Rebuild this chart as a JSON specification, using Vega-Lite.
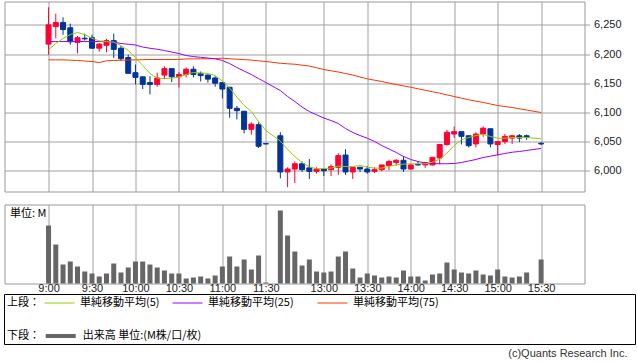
{
  "$schema": "https://vega.github.io/schema/vega-lite/v6.json",
  "padding": {"left": 3.5, "top": 0.5, "right": 0, "bottom": 0},
  "background": "white",
  "spacing": 11,
  "title": {"text": "(c)Quants Research Inc.", "orient": "bottom", "anchor": "end", "font": "Liberation Sans", "fontSize": 11, "fontWeight": "normal", "color": "#333333", "offset": 3, "dx": -8},
  "config": {
    "view": {"stroke": "#999999", "strokeWidth": 1},
    "axis": {"gridColor": "#a0a0a0", "gridWidth": 1, "gridOpacity": 1, "labelColor": "#222222", "labelFont": "Liberation Sans", "labelFontSize": 11, "tickColor": "#a0a0a0"},
    "axisY": {"values": [6000, 6050, 6100, 6150, 6200, 6250]}
  },
  "datasets": {
    "bars": [
      {"n": 0, "t": "9:00", "o": 6217, "h": 6280, "l": 6199, "c": 6250, "v": 0.58, "ma5": 6207.2, "ma25": 6221.4, "ma75": 6190.1},
      {"n": 1, "t": "9:05", "o": 6247, "h": 6269, "l": 6227, "c": 6254, "v": 0.39, "ma5": 6218, "ma25": 6221.4, "ma75": 6190},
      {"n": 2, "t": "9:10", "o": 6254, "h": 6263, "l": 6233, "c": 6242, "v": 0.19, "ma5": 6226.5, "ma25": 6221.4, "ma75": 6190},
      {"n": 3, "t": "9:15", "o": 6245, "h": 6252, "l": 6216, "c": 6221, "v": 0.22, "ma5": 6233.4, "ma25": 6221.4, "ma75": 6189.5},
      {"n": 4, "t": "9:20", "o": 6220, "h": 6231, "l": 6201, "c": 6228, "v": 0.17, "ma5": 6236.8, "ma25": 6221.4, "ma75": 6188.9},
      {"n": 5, "t": "9:25", "o": 6227, "h": 6235, "l": 6223, "c": 6226, "v": 0.12, "ma5": 6233.4, "ma25": 6221.4, "ma75": 6188},
      {"n": 6, "t": "9:30", "o": 6228, "h": 6233, "l": 6209, "c": 6210, "v": 0.10, "ma5": 6227, "ma25": 6221.4, "ma75": 6187.2},
      {"n": 7, "t": "9:35", "o": 6210, "h": 6219, "l": 6204, "c": 6217, "v": 0.07, "ma5": 6222.6, "ma25": 6221.4, "ma75": 6185.4},
      {"n": 8, "t": "9:40", "o": 6215, "h": 6226, "l": 6203, "c": 6223, "v": 0.10, "ma5": 6221.4, "ma25": 6221.4, "ma75": 6188.4},
      {"n": 9, "t": "9:45", "o": 6223, "h": 6235, "l": 6193, "c": 6208, "v": 0.20, "ma5": 6220.5, "ma25": 6220.5, "ma75": 6189},
      {"n": 10, "t": "9:50", "o": 6210, "h": 6214, "l": 6188, "c": 6192, "v": 0.11, "ma5": 6214.5, "ma25": 6218, "ma75": 6189.4},
      {"n": 11, "t": "9:55", "o": 6194, "h": 6199, "l": 6167, "c": 6167, "v": 0.16, "ma5": 6206, "ma25": 6216.8, "ma75": 6189.7},
      {"n": 12, "t": "10:00", "o": 6168, "h": 6182, "l": 6148, "c": 6160, "v": 0.22, "ma5": 6194, "ma25": 6215.4, "ma75": 6190},
      {"n": 13, "t": "10:05", "o": 6161, "h": 6161, "l": 6140, "c": 6148, "v": 0.22, "ma5": 6180.3, "ma25": 6212, "ma75": 6190.3},
      {"n": 14, "t": "10:10", "o": 6151, "h": 6162, "l": 6131, "c": 6148, "v": 0.19, "ma5": 6166.6, "ma25": 6209.9, "ma75": 6190.6},
      {"n": 15, "t": "10:15", "o": 6148, "h": 6168, "l": 6144, "c": 6159, "v": 0.16, "ma5": 6158.6, "ma25": 6208.2, "ma75": 6190.6},
      {"n": 16, "t": "10:20", "o": 6164, "h": 6179, "l": 6157, "c": 6175, "v": 0.13, "ma5": 6158, "ma25": 6206, "ma75": 6190.6},
      {"n": 17, "t": "10:25", "o": 6175, "h": 6175, "l": 6152, "c": 6161, "v": 0.10, "ma5": 6158.6, "ma25": 6203.4, "ma75": 6190.6},
      {"n": 18, "t": "10:30", "o": 6161, "h": 6169, "l": 6143, "c": 6165, "v": 0.10, "ma5": 6160.6, "ma25": 6200.9, "ma75": 6190.8},
      {"n": 19, "t": "10:35", "o": 6165, "h": 6177, "l": 6160, "c": 6174, "v": 0.05, "ma5": 6164.9, "ma25": 6197.4, "ma75": 6191.5},
      {"n": 20, "t": "10:40", "o": 6174, "h": 6179, "l": 6160, "c": 6165, "v": 0.06, "ma5": 6168.3, "ma25": 6195.7, "ma75": 6191.8},
      {"n": 21, "t": "10:45", "o": 6167, "h": 6170, "l": 6153, "c": 6163, "v": 0.07, "ma5": 6167.4, "ma25": 6194.4, "ma75": 6191.8},
      {"n": 22, "t": "10:50", "o": 6164, "h": 6165, "l": 6151, "c": 6157, "v": 0.05, "ma5": 6166.6, "ma25": 6193.1, "ma75": 6191.8},
      {"n": 23, "t": "10:55", "o": 6159, "h": 6162, "l": 6144, "c": 6150, "v": 0.08, "ma5": 6163.2, "ma25": 6191.8, "ma75": 6192.3},
      {"n": 24, "t": "11:00", "o": 6151, "h": 6151, "l": 6124, "c": 6140, "v": 0.17, "ma5": 6153.8, "ma25": 6188.9, "ma75": 6192.8},
      {"n": 25, "t": "11:05", "o": 6143, "h": 6144, "l": 6091, "c": 6107, "v": 0.27, "ma5": 6141.8, "ma25": 6183.7, "ma75": 6192},
      {"n": 26, "t": "11:10", "o": 6107, "h": 6111, "l": 6088, "c": 6103, "v": 0.17, "ma5": 6126.4, "ma25": 6176.9, "ma75": 6191.1},
      {"n": 27, "t": "11:15", "o": 6102, "h": 6102, "l": 6064, "c": 6071, "v": 0.24, "ma5": 6111.8, "ma25": 6170.9, "ma75": 6190.4},
      {"n": 28, "t": "11:20", "o": 6071, "h": 6083, "l": 6062, "c": 6080, "v": 0.14, "ma5": 6101.5, "ma25": 6164.9, "ma75": 6189.7},
      {"n": 29, "t": "11:25", "o": 6079, "h": 6083, "l": 6039, "c": 6042, "v": 0.28, "ma5": 6084.4, "ma25": 6158, "ma75": 6188.4},
      {"n": 30, "t": "11:30", "o": 6046.5, "h": 6046.5, "l": 6046, "c": 6046, "v": 0.01, "ma5": 6069, "ma25": 6151.2, "ma75": 6187.2},
      {"n": 32, "t": "12:30", "o": 6060, "h": 6066, "l": 5987, "c": 5998, "v": 0.73, "ma5": 6051, "ma25": 6137.5, "ma75": 6184.2},
      {"n": 33, "t": "12:35", "o": 5998, "h": 6006, "l": 5972, "c": 6003, "v": 0.48, "ma5": 6036.5, "ma25": 6127.2, "ma75": 6183.3},
      {"n": 34, "t": "12:40", "o": 6003, "h": 6016, "l": 5979, "c": 6012, "v": 0.32, "ma5": 6024.5, "ma25": 6118.7, "ma75": 6182.5},
      {"n": 35, "t": "12:45", "o": 6012, "h": 6016, "l": 5998, "c": 6002, "v": 0.18, "ma5": 6014.2, "ma25": 6109.2, "ma75": 6181},
      {"n": 36, "t": "12:50", "o": 6005, "h": 6020, "l": 5986, "c": 5999, "v": 0.24, "ma5": 6006.8, "ma25": 6101.5, "ma75": 6179.4},
      {"n": 37, "t": "12:55", "o": 5999, "h": 6006, "l": 5995, "c": 6003, "v": 0.12, "ma5": 6003.4, "ma25": 6095.9, "ma75": 6176.5},
      {"n": 38, "t": "13:00", "o": 6003, "h": 6003, "l": 5991, "c": 6000, "v": 0.11, "ma5": 6003.9, "ma25": 6090.4, "ma75": 6173.5},
      {"n": 39, "t": "13:05", "o": 6002, "h": 6011, "l": 5991, "c": 6007, "v": 0.12, "ma5": 6004.5, "ma25": 6086.1, "ma75": 6171.3},
      {"n": 40, "t": "13:10", "o": 6006, "h": 6030, "l": 5993, "c": 6026, "v": 0.27, "ma5": 6007.9, "ma25": 6081, "ma75": 6169.2},
      {"n": 41, "t": "13:15", "o": 6027, "h": 6037, "l": 5993, "c": 5998, "v": 0.32, "ma5": 6007.4, "ma25": 6072.4, "ma75": 6166.6},
      {"n": 42, "t": "13:20", "o": 5998, "h": 6006, "l": 5986, "c": 6006, "v": 0.15, "ma5": 6007.4, "ma25": 6065.6, "ma75": 6164},
      {"n": 43, "t": "13:25", "o": 6006, "h": 6006, "l": 5998, "c": 6003, "v": 0.06, "ma5": 6009.1, "ma25": 6060.4, "ma75": 6160.7},
      {"n": 44, "t": "13:30", "o": 6003, "h": 6008, "l": 5995, "c": 5998, "v": 0.10, "ma5": 6006.2, "ma25": 6055.8, "ma75": 6157.5},
      {"n": 45, "t": "13:35", "o": 5999, "h": 6006, "l": 5996, "c": 6002, "v": 0.08, "ma5": 6004.5, "ma25": 6050.2, "ma75": 6155.2},
      {"n": 46, "t": "13:40", "o": 6002, "h": 6010, "l": 5999, "c": 6010, "v": 0.06, "ma5": 6004.5, "ma25": 6043.3, "ma75": 6152.9},
      {"n": 47, "t": "13:45", "o": 6009, "h": 6019, "l": 6001, "c": 6016, "v": 0.07, "ma5": 6007.4, "ma25": 6037.3, "ma75": 6150.3},
      {"n": 48, "t": "13:50", "o": 6014, "h": 6020, "l": 6009, "c": 6018, "v": 0.06, "ma5": 6010.3, "ma25": 6031.3, "ma75": 6147.8},
      {"n": 49, "t": "13:55", "o": 6018, "h": 6025, "l": 5998, "c": 6003, "v": 0.13, "ma5": 6011.3, "ma25": 6024.5, "ma75": 6145.4},
      {"n": 50, "t": "14:00", "o": 6003, "h": 6011, "l": 6002, "c": 6010, "v": 0.07, "ma5": 6012, "ma25": 6019.3, "ma75": 6143.1},
      {"n": 51, "t": "14:05", "o": 6011, "h": 6016, "l": 6009, "c": 6010, "v": 0.07, "ma5": 6012, "ma25": 6015.9, "ma75": 6140.5},
      {"n": 52, "t": "14:10", "o": 6010, "h": 6014, "l": 6005, "c": 6014, "v": 0.03, "ma5": 6012, "ma25": 6013.4, "ma75": 6138},
      {"n": 53, "t": "14:15", "o": 6010, "h": 6023, "l": 6009, "c": 6023, "v": 0.09, "ma5": 6014.7, "ma25": 6012.5, "ma75": 6135.4},
      {"n": 54, "t": "14:20", "o": 6022, "h": 6046, "l": 6011, "c": 6045, "v": 0.10, "ma5": 6019.9, "ma25": 6012, "ma75": 6132.9},
      {"n": 55, "t": "14:25", "o": 6045, "h": 6070, "l": 6043, "c": 6066, "v": 0.21, "ma5": 6030.1, "ma25": 6012, "ma75": 6130},
      {"n": 56, "t": "14:30", "o": 6063, "h": 6076, "l": 6056, "c": 6067, "v": 0.14, "ma5": 6043.3, "ma25": 6012.5, "ma75": 6127.2},
      {"n": 57, "t": "14:35", "o": 6067, "h": 6067, "l": 6045, "c": 6059, "v": 0.11, "ma5": 6053.1, "ma25": 6014.2, "ma75": 6124.4},
      {"n": 58, "t": "14:40", "o": 6060, "h": 6060, "l": 6040, "c": 6043, "v": 0.10, "ma5": 6057, "ma25": 6016.8, "ma75": 6121.6},
      {"n": 59, "t": "14:45", "o": 6046, "h": 6066, "l": 6040, "c": 6063, "v": 0.13, "ma5": 6060.4, "ma25": 6019.3, "ma75": 6119.3},
      {"n": 60, "t": "14:50", "o": 6063, "h": 6076, "l": 6058, "c": 6073, "v": 0.09, "ma5": 6062.7, "ma25": 6022.8, "ma75": 6117},
      {"n": 61, "t": "14:55", "o": 6072, "h": 6072, "l": 6040, "c": 6046, "v": 0.08, "ma5": 6058.7, "ma25": 6025, "ma75": 6114.4},
      {"n": 62, "t": "15:00", "o": 6045, "h": 6050, "l": 6026, "c": 6050, "v": 0.14, "ma5": 6055.8, "ma25": 6027.4, "ma75": 6111.8},
      {"n": 63, "t": "15:05", "o": 6050, "h": 6063, "l": 6046, "c": 6059, "v": 0.07, "ma5": 6055.8, "ma25": 6029.6, "ma75": 6110.1},
      {"n": 64, "t": "15:10", "o": 6056, "h": 6061, "l": 6046, "c": 6060, "v": 0.06, "ma5": 6057, "ma25": 6031.8, "ma75": 6108.4},
      {"n": 65, "t": "15:15", "o": 6060, "h": 6063, "l": 6049, "c": 6056, "v": 0.07, "ma5": 6057, "ma25": 6033, "ma75": 6106.2},
      {"n": 66, "t": "15:20", "o": 6060, "h": 6062, "l": 6053, "c": 6057, "v": 0.11, "ma5": 6057, "ma25": 6034.8, "ma75": 6104.1},
      {"n": 68, "t": "15:30", "o": 6047, "h": 6049, "l": 6044, "c": 6046, "v": 0.24, "ma5": 6054.8, "ma25": 6038.2, "ma75": 6099.8}
    ]
  },
  "vconcat": [
    {
      "width": 580,
      "height": 190,
      "data": {"name": "bars"},
      "layer": [
        {
          "mark": {"type": "rule", "strokeWidth": 1},
          "encoding": {
            "x": {"field": "n", "type": "quantitative", "scale": {"domain": [-5.39, 73.3], "nice": false, "zero": false},
                  "axis": {"values": [0, 6, 12, 18, 24, 30, 38, 44, 50, 56, 62, 68], "labels": false, "ticks": false, "domain": false, "grid": true, "title": null}},
            "y": {"field": "l", "type": "quantitative", "scale": {"domain": [5964.5, 6290], "nice": false, "zero": false},
                  "axis": {"orient": "right", "values": [6000, 6050, 6100, 6150, 6200, 6250], "format": ",.0f", "labelOverlap": false, "grid": true, "domain": false, "ticks": true, "tickSize": 5, "labelPadding": 4, "title": null}},
            "y2": {"field": "h"},
            "color": {"condition": {"test": "datum.c >= datum.o", "value": "#ff0033"}, "value": "#003399"}
          }
        },
        {
          "mark": {"type": "bar", "width": 5, "strokeWidth": 1},
          "encoding": {
            "x": {"field": "n", "type": "quantitative",
                  "axis": {"values": [0, 6, 12, 18, 24, 30, 38, 44, 50, 56, 62, 68], "labels": false, "ticks": false, "domain": false, "grid": true, "title": null}},
            "y": {"field": "o", "type": "quantitative",
                  "axis": {"orient": "right", "values": [6000, 6050, 6100, 6150, 6200, 6250], "format": ",.0f", "labelOverlap": false, "grid": true, "domain": false, "ticks": true, "tickSize": 5, "labelPadding": 4, "title": null}},
            "y2": {"field": "c"},
            "fill": {"condition": {"test": "datum.c >= datum.o", "value": "#ff0033"}, "value": "#003399"},
            "stroke": {"condition": {"test": "datum.c >= datum.o", "value": "#ff0033"}, "value": "#003399"}
          }
        },
        {
          "transform": [{"fold": ["ma75", "ma25", "ma5"], "as": ["key", "value"]}],
          "mark": {"type": "line", "strokeWidth": 1, "interpolate": "linear"},
          "encoding": {
            "x": {"field": "n", "type": "quantitative",
                  "axis": {"values": [0, 6, 12, 18, 24, 30, 38, 44, 50, 56, 62, 68], "labels": false, "ticks": false, "domain": false, "grid": true, "title": null}},
            "y": {"field": "value", "type": "quantitative",
                  "axis": {"orient": "right", "values": [6000, 6050, 6100, 6150, 6200, 6250], "format": ",.0f", "labelOverlap": false, "grid": true, "domain": false, "ticks": true, "tickSize": 5, "labelPadding": 4, "title": null}},
            "color": {
              "field": "key", "type": "nominal",
              "scale": {"domain": ["ma5", "ma25", "ma75"], "range": ["#99cc00", "#9900ff", "#ff3300"]},
              "legend": {
                "orient": "none", "legendX": -0.5, "legendY": 292.5,
                "direction": "horizontal",
                "title": ["上段：", "下段："], "titleOrient": "left", "titleAnchor": "start", "titleBaseline": "top", "titleLineHeight": 33,
                "titleFont": "Noto Sans CJK JP", "titleFontSize": 11, "titleFontWeight": "normal", "titleColor": "#000000", "titlePadding": 4,
                "labelFont": "Noto Sans CJK JP", "labelFontSize": 11, "labelColor": "#000000", "labelLimit": 500, "labelOffset": 5,
                "labelExpr": "datum.value == 'ma5' ? '単純移動平均(5)' : datum.value == 'ma25' ? '単純移動平均(25)　\u200b' : '単純移動平均(75)　　　　　　　　　　　　　　　　　\u2002\u200b'",
                "symbolType": "stroke", "symbolSize": 900, "symbolStrokeWidth": 1,
                "clipHeight": 12, "columnPadding": 12,
                "padding": 3, "strokeColor": "#000000"
              }
            }
          }
        }
      ]
    },
    {
      "width": 580,
      "height": 79,
      "data": {"name": "bars"},
      "mark": {"type": "bar", "width": 5},
      "encoding": {
        "x": {"field": "n", "type": "quantitative", "scale": {"domain": [-5.39, 73.3], "nice": false, "zero": false},
              "axis": {"values": [0, 6, 12, 18, 24, 30, 38, 44, 50, 56, 62, 68], "labels": true, "ticks": false, "domain": false, "grid": true, "title": null, "labelPadding": -1,
                       "labelExpr": "datum.value <= 30 ? (9 + floor(datum.value / 12)) + ':' + (datum.value % 12 == 0 ? '00' : '30') : (13 + floor((datum.value - 38) / 12)) + ':' + ((datum.value - 38) % 12 == 0 ? '00' : '30')"}},
        "y": {"field": "v", "type": "quantitative", "scale": {"domain": [0, 0.79], "nice": false, "zero": true},
              "axis": {"orient": "left", "values": [0], "labels": false, "ticks": false, "domain": false, "grid": false, "title": "単位: M", "titleAngle": 0, "titleX": 5, "titleY": 9, "titleAlign": "left", "titleBaseline": "middle", "titleFont": "Noto Sans CJK JP", "titleFontSize": 11, "titleFontWeight": "normal", "titleColor": "#000000"}},
        "fill": {
          "datum": "出来高 単位:(M株/口/枚)", "type": "nominal",
          "scale": {"range": ["#666666"]},
          "legend": {
            "orient": "none", "legendX": 39.2, "legendY": 328.5, "title": null,
            "symbolType": "stroke", "symbolStrokeColor": "#666666", "symbolStrokeWidth": 4, "symbolSize": 900,
            "clipHeight": 12, "labelOffset": 5, "labelFont": "Noto Sans CJK JP", "labelFontSize": 11, "labelColor": "#000000", "labelLimit": 300, "padding": 0
          }
        }
      }
    }
  ]
}
